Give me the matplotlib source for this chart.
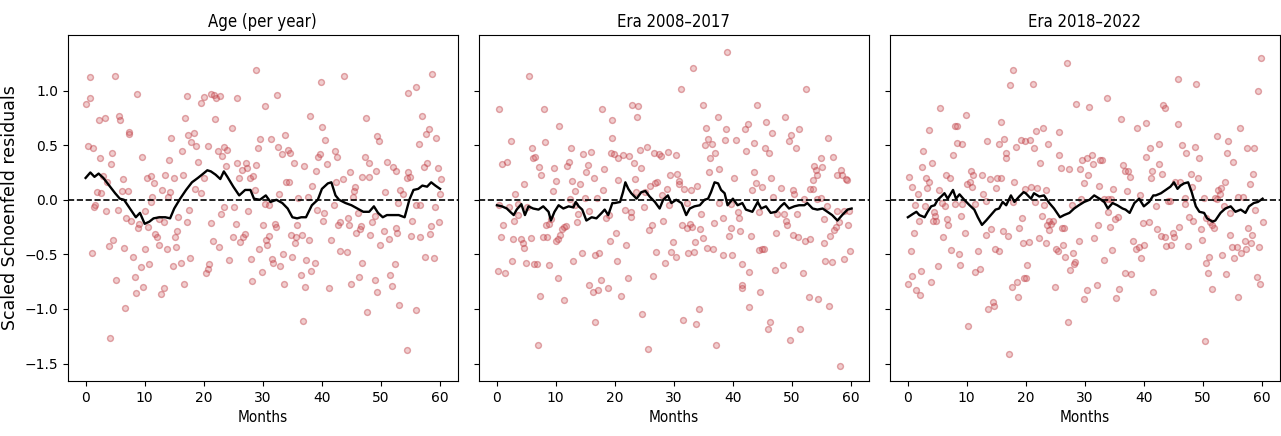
import numpy as np
import matplotlib
matplotlib.use("Agg")
import matplotlib.pyplot as plt

titles = ["Age (per year)", "Era 2008\u20132017", "Era 2018\u20132022"]

# (month, scaled residual)
age_resid = [
    (0.68, 1.12), (4.9, 1.13), (8.67, 0.97), (0.8, 0.93), (0.03, 0.88), (17.1, 0.95), (19.5, 0.89),
    (2.25, 0.73), (3.27, 0.75), (5.63, 0.77), (5.9, 0.73), (16.9, 0.75), (7.3, 0.62), (7.4, 0.60),
    (17.4, 0.59), (18.3, 0.61), (14.5, 0.57), (17.9, 0.53), (18.7, 0.49), (0.46, 0.49), (1.3, 0.47),
    (16.3, 0.45), (4.45, 0.43), (2.5, 0.38), (9.5, 0.39), (14.1, 0.36), (19.1, 0.35), (4.3, 0.33),
    (2.9, 0.22), (3.6, 0.16), (6.25, 0.19), (10.4, 0.20), (11.1, 0.22), (11.5, 0.15), (13.5, 0.23),
    (14.9, 0.20), (16.5, 0.23), (18.5, 0.10), (2.0, 0.07), (2.65, 0.06), (6.1, 0.08), (7.1, 0.08),
    (12.9, 0.09), (14.3, 0.07), (13.96, 0.03), (11.3, 0.03), (19.6, 0.06), (1.6, -0.05), (1.4, -0.07),
    (3.5, -0.10), (5.5, -0.09), (10.0, -0.10), (11.0, -0.02), (17.5, -0.09), (6.9, -0.17), (7.7, -0.19),
    (9.06, -0.22), (8.9, -0.26), (10.5, -0.25), (12.5, -0.18), (13.2, -0.20), (15.7, -0.16), (17.1, -0.20),
    (11.8, -0.31), (12.1, -0.34), (15.5, -0.29), (15.1, -0.34), (4.67, -0.37), (3.94, -0.42), (6.5, -0.44),
    (12.5, -0.41), (13.7, -0.45), (15.3, -0.43), (10.1, -0.45), (1.07, -0.49), (8.1, -0.52), (17.7, -0.53),
    (10.7, -0.59), (9.3, -0.62), (14.8, -0.61), (16.1, -0.58), (5.07, -0.73), (8.3, -0.71), (16.7, -0.77),
    (8.5, -0.85), (9.7, -0.80), (12.7, -0.86), (13.3, -0.81), (6.7, -0.99), (4.05, -1.27),
    (20.1, 0.94), (21.2, 0.97), (21.7, 0.96), (22.1, 0.93), (22.7, 0.95), (28.9, 1.19), (25.6, 0.93),
    (32.4, 0.96), (30.4, 0.86), (39.8, 1.08), (21.96, 0.74), (38.0, 0.77), (40.0, 0.67), (24.7, 0.66),
    (33.8, 0.59), (29.6, 0.56), (31.4, 0.56), (40.6, 0.55), (20.8, 0.49), (22.4, 0.45), (23.4, 0.48),
    (24.0, 0.46), (23.1, 0.40), (29.2, 0.47), (32.5, 0.48), (34.2, 0.46), (34.6, 0.43), (33.2, 0.42),
    (39.6, 0.42), (39.4, 0.39), (40.8, 0.33), (25.7, 0.34), (27.2, 0.34), (23.7, 0.31), (28.8, 0.32),
    (35.2, 0.34), (37.0, 0.31), (26.4, 0.27), (27.4, 0.29), (39.0, 0.26), (25.9, 0.20), (27.8, 0.20),
    (28.3, 0.22), (20.1, 0.20), (34.0, 0.16), (34.4, 0.16), (38.4, 0.13), (28.6, 0.09), (32.8, 0.05),
    (23.5, -0.07), (25.2, -0.07), (27.5, -0.10), (36.0, 0.02), (37.6, 0.03), (30.4, -0.04), (31.0, -0.05),
    (39.2, -0.09), (40.4, -0.12), (40.2, -0.19), (23.0, -0.13), (21.3, -0.21), (25.4, -0.22), (30.0, -0.23),
    (32.0, -0.22), (32.2, -0.25), (35.7, -0.23), (41.5, -0.37), (31.1, -0.33), (34.8, -0.32), (35.6, -0.34),
    (36.6, -0.32), (37.8, -0.37), (24.95, -0.34), (26.6, -0.34), (27.0, -0.31), (26.1, -0.39), (30.5, -0.37),
    (30.7, -0.41), (35.4, -0.40), (21.5, -0.38), (22.6, -0.43), (29.3, -0.45), (33.4, -0.50), (35.0, -0.52),
    (24.3, -0.55), (27.96, -0.54), (31.6, -0.54), (31.8, -0.58), (32.9, -0.61), (37.3, -0.55), (38.8, -0.58),
    (38.2, -0.65), (20.9, -0.59), (20.7, -0.63), (20.3, -0.67), (29.8, -0.66), (36.4, -0.69), (28.2, -0.74),
    (33.6, -0.77), (37.2, -0.80), (41.2, -0.81), (36.8, -1.11),
    (43.8, 1.13), (58.7, 1.15), (54.6, 0.98), (56.0, 1.03), (47.4, 0.75), (56.9, 0.77), (49.4, 0.58),
    (49.7, 0.54), (58.1, 0.65), (57.7, 0.60), (59.3, 0.57), (56.5, 0.51), (42.2, 0.45), (42.6, 0.39),
    (47.3, 0.39), (48.0, 0.34), (51.1, 0.35), (57.8, 0.34), (57.2, 0.30), (59.7, 0.29), (52.1, 0.30),
    (44.8, 0.25), (49.2, 0.26), (52.5, 0.26), (54.5, 0.25), (46.8, 0.21), (47.9, 0.21), (43.6, 0.19),
    (42.3, 0.16), (54.4, 0.20), (54.9, 0.21), (60.1, 0.19), (45.6, 0.12), (45.4, 0.08), (50.7, 0.07),
    (53.2, 0.09), (53.8, 0.05), (45.2, 0.03), (60.0, 0.05), (42.0, -0.05), (46.1, -0.12), (52.8, -0.03),
    (56.0, -0.05), (56.6, -0.05), (59.1, -0.07), (48.98, -0.15), (48.4, -0.20), (55.2, -0.19), (59.9, -0.20),
    (43.1, -0.20), (42.8, -0.23), (44.4, -0.17), (44.6, -0.23), (46.6, -0.24), (46.4, -0.27), (45.8, -0.30),
    (50.5, -0.29), (52.5, -0.26), (52.7, -0.30), (48.2, -0.32), (51.4, -0.36), (55.1, -0.33), (56.6, -0.34),
    (58.5, -0.24), (58.3, -0.31), (49.8, -0.41), (43.0, -0.47), (44.3, -0.48), (57.4, -0.52), (58.9, -0.53),
    (46.7, -0.58), (52.3, -0.59), (51.6, -0.69), (46.2, -0.71), (45.0, -0.77), (49.0, -0.73), (51.8, -0.79),
    (49.3, -0.84), (53.0, -0.96), (47.7, -1.03), (55.9, -1.01), (54.4, -1.38),
]

era1_resid = [
    (5.56, 1.13), (0.34, 0.83), (8.0, 0.83), (10.6, 0.68), (17.8, 0.83), (19.6, 0.73), (19.5, 0.57),
    (2.36, 0.54), (8.2, 0.53), (5.96, 0.47), (12.6, 0.47), (14.6, 0.42), (16.0, 0.44), (19.4, 0.43),
    (6.25, 0.38), (6.5, 0.39), (0.96, 0.33), (1.8, 0.35), (7.2, 0.30), (9.8, 0.29), (12.0, 0.31),
    (12.2, 0.35), (15.4, 0.32), (18.2, 0.28), (7.5, 0.23), (15.2, 0.25), (10.0, 0.17), (12.8, 0.17),
    (14.2, 0.14), (16.5, 0.20), (4.6, 0.14), (9.6, 0.08), (13.2, 0.08), (18.0, 0.09), (3.15, 0.05),
    (14.95, 0.02), (17.0, 0.02), (12.4, 0.01), (3.6, -0.04), (0.45, -0.05), (2.1, -0.07), (5.2, -0.07),
    (13.3, -0.05), (15.7, -0.10), (3.6, -0.14), (13.7, -0.13), (18.6, -0.17), (19.1, -0.14), (2.9, -0.19),
    (9.2, -0.18), (13.6, -0.20), (1.1, -0.23), (8.3, -0.23), (8.9, -0.22), (11.4, -0.25), (11.7, -0.24),
    (11.1, -0.27), (0.79, -0.34), (2.76, -0.36), (4.1, -0.36), (5.8, -0.35), (7.8, -0.34), (8.6, -0.34),
    (10.8, -0.32), (10.4, -0.36), (10.1, -0.38), (4.4, -0.40), (4.7, -0.44), (19.2, -0.38), (14.4, -0.49),
    (16.7, -0.51), (17.4, -0.49), (13.0, -0.56), (2.6, -0.56), (4.9, -0.58), (6.4, -0.59), (6.8, -0.59),
    (8.8, -0.60), (0.17, -0.65), (1.4, -0.67), (10.4, -0.72), (17.6, -0.73), (15.6, -0.78), (16.3, -0.84),
    (17.2, -0.83), (18.8, -0.81), (7.4, -0.88), (11.4, -0.92), (16.6, -1.12), (7.0, -1.33),
    (39.0, 1.35), (33.2, 1.21), (31.2, 1.01), (23.0, 0.87), (24.0, 0.86), (23.8, 0.76), (35.0, 0.87),
    (37.5, 0.76), (35.4, 0.66), (38.8, 0.65), (35.8, 0.56), (38.6, 0.55), (40.6, 0.55), (35.3, 0.50),
    (36.4, 0.51), (37.0, 0.43), (36.2, 0.38), (19.9, 0.42), (21.4, 0.41), (20.6, 0.38), (22.4, 0.40),
    (24.2, 0.46), (25.4, 0.48), (26.7, 0.43), (27.5, 0.42), (27.8, 0.40), (29.0, 0.44), (30.4, 0.41),
    (23.2, 0.34), (24.4, 0.29), (37.7, 0.28), (35.9, 0.25), (40.2, 0.20), (29.4, 0.23), (30.6, 0.24),
    (30.9, 0.17), (23.5, 0.19), (20.6, 0.18), (26.0, 0.13), (26.8, 0.15), (27.2, 0.16), (30.8, 0.14),
    (31.8, 0.10), (32.9, 0.09), (34.0, 0.13), (28.8, 0.10), (23.6, 0.07), (25.1, 0.07), (27.98, 0.04),
    (25.0, -0.07), (21.8, -0.09), (22.8, -0.11), (22.7, -0.16), (28.2, -0.19), (32.2, -0.03), (29.2, -0.05),
    (37.7, -0.03), (39.7, -0.04), (34.6, -0.13), (36.8, -0.21), (38.4, -0.17), (40.8, -0.11), (41.1, -0.17),
    (31.4, -0.23), (32.7, -0.22), (33.0, -0.25), (34.4, -0.27), (32.2, -0.26), (26.3, -0.23), (25.8, -0.28),
    (39.6, -0.26), (39.4, -0.33), (41.2, -0.29), (20.2, -0.30), (21.99, -0.41), (34.9, -0.35), (29.8, -0.39),
    (33.6, -0.39), (35.6, -0.44), (36.7, -0.45), (27.05, -0.48), (29.6, -0.48), (30.3, -0.52), (32.4, -0.49),
    (33.5, -0.48), (38.3, -0.51), (39.9, -0.51), (28.5, -0.58), (20.4, -0.56), (41.6, -0.59), (26.4, -0.70),
    (22.2, -0.72), (21.0, -0.88), (41.5, -0.78), (41.5, -0.81), (24.6, -1.05), (31.6, -1.10), (34.2, -1.00),
    (33.8, -1.14), (37.2, -1.33), (25.6, -1.37),
    (52.3, 1.01), (44.1, 0.87), (48.9, 0.76), (42.0, 0.65), (42.5, 0.69), (45.6, 0.71), (46.7, 0.61),
    (51.2, 0.65), (49.9, 0.59), (49.5, 0.54), (56.1, 0.57), (43.6, 0.52), (42.2, 0.45), (45.5, 0.47),
    (46.1, 0.43), (50.7, 0.47), (54.9, 0.38), (56.9, 0.39), (53.7, 0.31), (54.0, 0.27), (54.3, 0.23),
    (55.1, 0.30), (53.5, 0.18), (43.5, 0.25), (43.9, 0.15), (43.3, 0.09), (45.0, 0.12), (46.4, 0.20),
    (48.2, 0.11), (50.2, 0.09), (50.4, 0.05), (46.8, 0.03), (52.0, 0.01), (53.0, 0.10), (53.5, 0.10),
    (54.3, 0.01), (55.0, 0.02), (57.7, 0.23), (58.3, 0.27), (58.5, 0.23), (59.1, 0.19), (59.4, 0.18),
    (56.0, -0.06), (57.6, -0.10), (58.8, -0.10), (59.7, -0.10), (44.4, -0.11), (47.5, -0.13), (48.7, -0.13),
    (50.9, -0.13), (49.0, -0.19), (49.2, -0.23), (55.5, -0.18), (58.0, -0.20), (59.5, -0.23), (57.5, -0.25),
    (57.2, -0.28), (43.1, -0.33), (47.3, -0.30), (50.1, -0.32), (51.1, -0.34), (52.2, -0.38), (53.0, -0.36),
    (56.5, -0.33), (55.5, -0.40), (44.5, -0.46), (45.0, -0.45), (45.3, -0.45), (59.9, -0.47), (55.6, -0.56),
    (56.7, -0.57), (58.8, -0.54), (42.7, -0.66), (47.1, -0.64), (48.5, -0.60), (51.8, -0.67), (44.6, -0.84),
    (52.8, -0.89), (54.4, -0.91), (56.3, -0.97), (42.8, -0.98), (46.2, -1.12), (45.9, -1.18), (51.4, -1.18),
    (49.7, -1.28), (58.1, -1.52),
]

era2_resid = [
    (17.9, 1.19), (17.3, 1.05), (5.5, 0.84), (9.9, 0.78), (3.66, 0.64), (8.0, 0.68), (8.3, 0.68),
    (15.8, 0.71), (8.4, 0.52), (9.3, 0.51), (13.5, 0.54), (15.5, 0.51), (16.3, 0.56), (19.2, 0.55),
    (18.4, 0.48), (2.7, 0.45), (7.7, 0.41), (16.7, 0.43), (16.6, 0.38), (4.1, 0.34), (2.5, 0.30),
    (0.2, 0.21), (3.1, 0.20), (3.55, 0.16), (0.68, 0.12), (3.32, 0.11), (6.5, 0.23), (7.15, 0.20),
    (10.7, 0.26), (11.0, 0.23), (10.1, 0.14), (10.6, 0.16), (10.9, 0.12), (12.6, 0.23), (13.96, 0.19),
    (15.1, 0.20), (15.9, 0.20), (18.1, 0.16), (14.9, 0.11), (5.35, 0.09), (1.75, 0.05), (12.8, 0.05),
    (13.3, -0.01), (5.8, -0.03), (6.3, -0.06), (8.1, -0.04), (9.3, -0.04), (11.4, -0.04), (17.9, -0.02),
    (1.3, -0.05), (2.9, -0.06), (4.5, -0.11), (4.67, -0.15), (4.34, -0.19), (4.84, -0.19), (1.92, -0.19),
    (6.65, -0.18), (6.87, -0.23), (9.12, -0.15), (19.3, -0.17), (1.07, -0.30), (9.8, -0.30), (14.1, -0.27),
    (16.2, -0.29), (17.0, -0.33), (18.8, -0.26), (6.08, -0.34), (13.2, -0.32), (19.5, -0.40), (0.51, -0.47),
    (7.32, -0.46), (8.7, -0.50), (11.9, -0.47), (14.8, -0.45), (15.4, -0.47), (8.9, -0.60), (5.1, -0.61),
    (2.31, -0.65), (0.84, -0.70), (11.5, -0.66), (12.3, -0.63), (0.1, -0.77), (3.9, -0.75), (1.46, -0.83),
    (2.08, -0.87), (18.5, -0.75), (17.6, -0.80), (18.7, -0.89), (19.65, -0.72), (13.7, -1.00), (14.4, -0.94),
    (14.6, -0.97), (10.3, -1.16), (17.1, -1.41),
    (26.97, 1.25), (21.2, 1.06), (33.8, 0.93), (28.6, 0.88), (30.8, 0.85), (36.2, 0.74), (38.8, 0.66),
    (40.3, 0.70), (23.0, 0.66), (21.8, 0.63), (25.6, 0.62), (19.9, 0.54), (20.7, 0.55), (21.35, 0.47),
    (23.8, 0.51), (41.0, 0.47), (40.4, 0.39), (25.7, 0.41), (22.4, 0.34), (29.6, 0.36), (30.3, 0.38),
    (31.2, 0.41), (31.4, 0.33), (32.5, 0.36), (32.99, 0.36), (25.96, 0.29), (27.4, 0.28), (29.2, 0.28),
    (36.5, 0.32), (36.77, 0.26), (37.4, 0.26), (37.6, 0.21), (30.6, 0.23), (41.3, 0.26), (41.2, 0.20),
    (29.95, 0.15), (32.4, 0.13), (34.8, 0.10), (37.2, 0.08), (23.5, 0.09), (20.9, 0.12), (21.95, 0.11),
    (19.8, 0.10), (39.3, 0.04), (21.6, -0.02), (23.1, -0.05), (29.3, 0.01), (33.3, 0.01), (34.0, 0.01),
    (34.5, 0.01), (33.95, -0.11), (35.6, -0.16), (35.1, -0.18), (22.7, -0.15), (27.8, -0.05), (24.0, -0.19),
    (24.6, -0.19), (24.3, -0.22), (23.6, -0.23), (24.0, -0.28), (26.1, -0.26), (26.5, -0.26), (32.2, -0.23),
    (34.2, -0.25), (39.8, -0.21), (40.9, -0.20), (20.5, -0.39), (22.3, -0.35), (23.4, -0.40), (28.99, -0.38),
    (31.6, -0.35), (25.2, -0.45), (25.4, -0.47), (26.4, -0.41), (27.99, -0.49), (26.7, -0.52), (28.4, -0.57),
    (28.2, -0.59), (27.5, -0.64), (34.6, -0.46), (33.2, -0.55), (38.2, -0.38), (38.7, -0.45), (39.1, -0.43),
    (40.1, -0.41), (39.6, -0.53), (20.3, -0.60), (20.1, -0.72), (36.8, -0.67), (37.8, -0.68), (25.0, -0.80),
    (32.0, -0.78), (30.4, -0.83), (29.8, -0.91), (35.8, -0.82), (35.25, -0.90), (41.6, -0.84), (27.2, -1.12),
    (59.9, 1.30), (45.7, 1.11), (48.9, 1.06), (59.3, 1.00), (43.2, 0.87), (43.6, 0.84), (45.8, 0.69),
    (56.3, 0.66), (52.3, 0.58), (54.3, 0.54), (42.6, 0.51), (46.5, 0.50), (48.7, 0.48), (47.2, 0.43),
    (54.1, 0.43), (57.5, 0.47), (58.7, 0.47), (49.4, 0.38), (55.1, 0.35), (42.5, 0.33), (43.0, 0.24),
    (47.9, 0.24), (58.5, 0.24), (49.1, 0.20), (53.7, 0.16), (57.9, 0.14), (45.2, 0.16), (46.2, 0.16),
    (48.2, 0.12), (52.6, 0.09), (53.1, 0.11), (52.9, 0.05), (52.0, 0.02), (52.4, 0.01), (56.0, 0.03),
    (56.8, 0.03), (46.97, 0.02), (50.1, 0.02), (44.1, -0.01), (44.5, -0.01), (46.9, -0.04), (42.0, -0.06),
    (47.6, -0.16), (48.4, -0.19), (53.6, -0.06), (54.6, -0.12), (58.9, -0.09), (60.1, -0.20), (50.6, -0.17),
    (51.2, -0.20), (51.5, -0.23), (51.9, -0.26), (49.6, -0.27), (42.2, -0.27), (45.9, -0.25), (44.9, -0.30),
    (45.1, -0.34), (42.9, -0.33), (43.5, -0.34), (49.8, -0.37), (43.8, -0.42), (44.6, -0.41), (47.5, -0.42),
    (54.5, -0.32), (57.7, -0.26), (58.3, -0.32), (57.1, -0.38), (58.1, -0.40), (59.5, -0.43), (55.0, -0.43),
    (55.7, -0.43), (56.5, -0.49), (57.3, -0.45), (53.3, -0.51), (55.3, -0.53), (51.1, -0.52), (50.5, -0.58),
    (50.9, -0.67), (53.9, -0.68), (59.1, -0.71), (59.7, -0.77), (51.5, -0.82), (55.9, -0.89), (50.3, -1.29),
]

# smoothed trend (month, value)
age_smooth = [
    (0, 0.20), (0.8, 0.25), (1.5, 0.21), (2.2, 0.24), (3, 0.20), (4, 0.13), (5, 0.06), (5.8, 0.01),
    (6.5, 0.0), (7.5, -0.08), (8.5, -0.16), (9.2, -0.12), (10, -0.22), (10.8, -0.20), (11.5, -0.17),
    (12.5, -0.16), (13.5, -0.16), (14.3, -0.17), (15, -0.08), (16, 0.01), (17, 0.09), (18, 0.16),
    (19, 0.20), (19.7, 0.23), (20.6, 0.27), (21.2, 0.26), (22, 0.23), (22.8, 0.19), (23.4, 0.26),
    (24, 0.21), (25, 0.12), (26, 0.04), (27, 0.09), (27.9, 0.09), (28.5, 0.01), (29.5, 0.0),
    (30.5, 0.04), (31.3, -0.02), (32.3, 0.0), (33.3, -0.03), (34.2, -0.08), (35, -0.16), (35.8, -0.17),
    (36.5, -0.16), (37.3, -0.16), (38.3, -0.05), (39.3, 0.0), (40, 0.10), (41, 0.15), (41.6, 0.16),
    (42.3, 0.04), (42.9, 0.0), (44, -0.03), (45, -0.05), (46, -0.08), (47, -0.11), (48, -0.11),
    (48.8, -0.06), (49.5, -0.12), (50.3, -0.16), (51, -0.14), (52, -0.14), (53, -0.14), (54, -0.16),
    (54.8, 0.0), (55.5, 0.09), (56.3, 0.10), (57, 0.13), (57.8, 0.12), (58.5, 0.16), (59.2, 0.13),
    (60, 0.10),
]

era1_smooth = [
    (0.06, -0.05), (0.9, -0.06), (1.74, -0.08), (2.3, -0.11), (2.9, -0.14), (3.4, -0.09), (4.2, -0.04),
    (4.8, -0.14), (5.4, -0.06), (6.2, -0.08), (7.1, -0.09), (7.9, -0.06), (8.8, -0.11), (9.2, -0.19),
    (9.8, -0.11), (10.5, -0.05), (11.3, -0.08), (12.2, -0.06), (13.0, -0.07), (13.4, -0.02), (13.9, -0.06),
    (14.5, -0.09), (15.2, -0.19), (16.1, -0.16), (16.9, -0.17), (17.8, -0.12), (18.3, -0.09), (18.9, -0.14),
    (19.6, -0.03), (20.0, -0.03), (20.9, -0.02), (21.4, 0.07), (21.8, 0.16), (22.3, 0.10), (22.8, 0.06),
    (23.7, 0.01), (24.5, 0.07), (25.2, 0.08), (25.9, 0.03), (26.8, -0.02), (27.6, -0.08), (28.2, 0.0),
    (29.0, 0.04), (29.6, -0.03), (30.4, 0.0), (31.3, -0.03), (32.1, -0.14), (32.7, -0.08), (33.5, -0.06),
    (34.4, -0.05), (35.2, 0.0), (35.8, 0.01), (36.3, 0.07), (36.9, 0.16), (37.5, 0.15), (38.0, 0.09),
    (38.6, 0.06), (39.1, -0.05), (40.0, 0.01), (40.8, -0.05), (41.6, -0.03), (42.2, -0.09), (43.3, -0.11),
    (44.2, -0.02), (44.8, -0.08), (45.6, -0.06), (46.4, -0.12), (47.3, -0.11), (48.1, -0.06), (48.7, -0.03),
    (49.5, -0.08), (50.4, -0.06), (51.2, -0.05), (52.1, -0.05), (52.6, -0.03), (53.5, -0.08), (54.3, -0.09),
    (55.2, -0.08), (56.0, -0.11), (56.8, -0.14), (57.7, -0.19), (58.5, -0.14), (59.4, -0.09), (60.1, -0.08),
]

era2_smooth = [
    (0.06, -0.16), (0.9, -0.13), (1.5, -0.11), (2.0, -0.14), (2.9, -0.16), (3.4, -0.11), (4.0, -0.06),
    (4.6, -0.05), (5.1, 0.0), (5.7, 0.03), (6.25, 0.06), (6.8, 0.01), (7.7, 0.09), (8.2, 0.01),
    (8.8, 0.05), (9.6, 0.0), (10.5, -0.05), (11.3, -0.09), (11.9, -0.16), (12.6, -0.23), (13.3, -0.19),
    (14.1, -0.14), (14.9, -0.09), (15.5, -0.08), (16.1, -0.02), (16.7, -0.05), (17.5, 0.04), (18.1, -0.02),
    (18.9, 0.03), (19.65, 0.07), (20.0, 0.06), (20.9, 0.01), (21.4, 0.06), (22.3, 0.03), (23.1, 0.04),
    (24.0, -0.03), (24.8, -0.08), (25.8, -0.16), (26.5, -0.14), (27.4, -0.12), (28.2, -0.08), (29.0, -0.05),
    (29.9, -0.02), (30.8, 0.0), (31.6, 0.04), (32.5, 0.01), (33.3, -0.02), (33.9, -0.08), (34.7, -0.03),
    (35.5, -0.05), (36.4, -0.08), (36.9, -0.09), (37.6, -0.12), (38.4, -0.03), (39.2, 0.01), (40.0, -0.06),
    (40.9, -0.02), (41.6, 0.04), (42.0, 0.04), (42.9, 0.06), (43.7, 0.09), (44.5, 0.12), (45.1, 0.16),
    (45.7, 0.10), (46.2, 0.13), (46.8, 0.15), (47.5, 0.16), (48.1, 0.07), (48.8, -0.06), (49.4, -0.11),
    (50.2, -0.12), (50.7, -0.17), (51.6, -0.20), (52.1, -0.19), (52.98, -0.12), (53.8, -0.08), (54.7, -0.06),
    (55.5, -0.11), (56.4, -0.09), (57.2, -0.12), (57.8, -0.06), (58.6, -0.03), (59.3, -0.02), (60.1, 0.01),
]

resid_sets = [age_resid, era1_resid, era2_resid]
smooth_sets = [age_smooth, era1_smooth, era2_smooth]

fig, axes = plt.subplots(1, 3, figsize=(12.81, 4.36), dpi=100, sharey=True)
fig.subplots_adjust(left=0.053, right=0.999, top=0.92, bottom=0.126, wspace=0.054)

for ax, title, pts, sm in zip(axes, titles, resid_sets, smooth_sets):
    pts = np.array(pts)
    sm = np.array(sm)
    ax.scatter(pts[:, 0], pts[:, 1], s=18, facecolor=(0.80, 0.30, 0.32, 0.28),
               edgecolor=(0.75, 0.25, 0.28, 0.45), linewidths=1.0)
    ax.plot(sm[:, 0], sm[:, 1], color="black", lw=1.7)
    ax.axhline(0, color="black", ls="--", lw=1.2)
    ax.set_title(title, fontsize=12, fontstretch="condensed")
    ax.set_xlabel("Months", fontsize=11, fontstretch="condensed")
    ax.set_xlim(-3, 63)
    ax.set_xticks(np.arange(0, 61, 10))

axes[0].set_ylim(-1.66, 1.51)
axes[0].set_yticks([-1.5, -1.0, -0.5, 0.0, 0.5, 1.0])
axes[0].set_ylabel("Scaled Schoenfeld residuals", fontsize=12.5)

fig.savefig("out.png", dpi=100)
